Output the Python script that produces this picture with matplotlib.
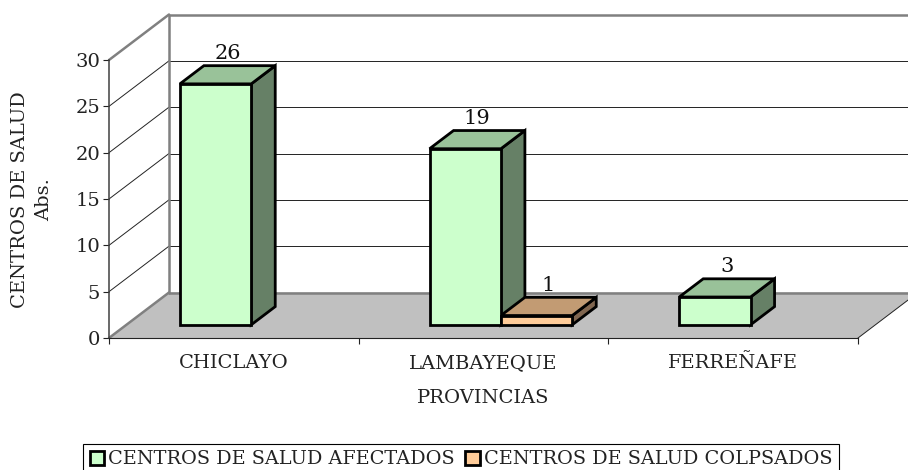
import matplotlib
matplotlib.use("Agg")
import matplotlib.pyplot as plt
from matplotlib.patches import Polygon, Rectangle

categories = ["CHICLAYO", "LAMBAYEQUE", "FERREÑAFE"]
afectados = [26, 19, 3]
colapsados = [0, 1, 0]
series_names = ["CENTROS DE SALUD AFECTADOS", "CENTROS DE SALUD COLPSADOS"]
yticks = [0, 5, 10, 15, 20, 25, 30]

plt.rcParams["font.family"] = "DejaVu Serif"
W, H = 908, 470
fig = plt.figure(figsize=(W / 100, H / 100), dpi=100)
ax = fig.add_axes([109 / W, 1 - 338 / H, 749 / W, 278 / H])
ax.set_xlim(0, 3)
ax.set_ylim(0, 30)
ax.patch.set_alpha(0)

DX = 3 * 60 / 749      # x shift of the full depth, data units
DY = 30 * 45.5 / 278   # y shift of the full depth, data units

def P(x, y, d=0.0):
    return (x + d * DX, y + d * DY)

def poly(pts, fc, ec="black", lw=2.0, z=3):
    ax.add_patch(Polygon(pts, closed=True, facecolor=fc, edgecolor=ec, linewidth=lw,
                         joinstyle="miter", zorder=z, clip_on=False))

def line(a, b, color="black", lw=0.7, z=1):
    ax.plot([a[0], b[0]], [a[1], b[1]], color=color, lw=lw, zorder=z, clip_on=False,
            solid_capstyle="round")

# floor
poly([P(0, 0), P(3, 0), P(3, 0, 1), P(0, 0, 1)], "#C0C0C0", ec="none", lw=0, z=0.5)
line(P(3, 0), P(3, 0, 1), "#222222", 0.7, 1)
# grid lines on side and back walls
for v in yticks[1:-1]:
    line(P(0, v), P(0, v, 1), "#222222", 0.7, 1)
    line(P(0, v, 1), P(3, v, 1), "#222222", 0.7, 1)
# wall frame
G = "#808080"
line(P(0, 0), P(0, 0, 1), G, 1.8, 1.5)
line(P(0, 30), P(0, 30, 1), G, 1.8, 1.5)
line(P(0, 0, 1), P(0, 30, 1), G, 1.8, 1.5)
line(P(0, 30, 1), P(3, 30, 1), G, 1.8, 1.5)
line(P(0, 0, 1), P(3, 0, 1), G, 1.8, 1.5)

D0, D1 = 0.29, 0.69
BW = 1 / 3.5

def bar(x, v, front, top, side):
    poly([P(x, 0, D0), P(x + BW, 0, D0), P(x + BW, v, D0), P(x, v, D0)], front, z=4)
    poly([P(x + BW, 0, D0), P(x + BW, 0, D1), P(x + BW, v, D1), P(x + BW, v, D0)], side, z=3.5)
    poly([P(x, v, D0), P(x + BW, v, D0), P(x + BW, v, D1), P(x, v, D1)], top, z=3.5)
    ax.annotate(str(v), P(x + BW / 2, v, (D0 + D1) / 2), xytext=(0, 8.5), textcoords="offset points",
                ha="center", va="bottom", fontsize=15, color="#111111", zorder=6, annotation_clip=False)

for i in range(len(categories)):
    left = i + 0.5 - BW
    if afectados[i]:
        bar(left, afectados[i], "#CCFFCC", "#99C299", "#668066")
    if colapsados[i]:
        bar(left + BW, colapsados[i], "#FFCC99", "#C29B73", "#806650")

# axes
for s in ("top", "right"):
    ax.spines[s].set_visible(False)
ax.spines["left"].set_color("#404040")
ax.spines["left"].set_linewidth(1.1)
ax.spines["bottom"].set_color("#222222")
ax.spines["bottom"].set_linewidth(0.8)
ax.set_yticks(yticks)
ax.tick_params(axis="y", length=4, width=0.8, labelsize=14, pad=2.5, colors="#222222")
ax.set_xticks([0, 1, 2, 3])
ax.set_xticklabels([])
ax.tick_params(axis="x", which="major", length=4, width=0.8, colors="#222222")
ax.set_xticks([0.5, 1.5, 2.5], minor=True)
ax.set_xticklabels(categories, minor=True, fontsize=14, color="#222222")
ax.tick_params(axis="x", which="minor", length=0, pad=11.5)

fig.text(483.5 / W, 1 - 398 / H, "PROVINCIAS", ha="center", va="center", fontsize=14, color="#222222")
fig.text(32 / W, 1 - 200 / H, "CENTROS DE SALUD\nAbs.", rotation=90, ha="center", va="center",
         fontsize=14, linespacing=1.42, multialignment="center", color="#222222")

handles = [Rectangle((0, 0), 1, 1, facecolor="#CCFFCC", edgecolor="black", linewidth=2.0),
           Rectangle((0, 0), 1, 1, facecolor="#FFCC99", edgecolor="black", linewidth=2.0)]
leg = fig.legend(handles, series_names, ncol=2, loc="upper left",
                 bbox_to_anchor=(83 / W, 1 - 443.5 / H), bbox_transform=fig.transFigure,
                 fontsize=13.85, frameon=True, fancybox=False, edgecolor="black", framealpha=1,
                 borderaxespad=0, borderpad=0.36, handlelength=0.75, handleheight=0.75,
                 handletextpad=0.2, columnspacing=0.55)
leg.get_frame().set_linewidth(0.8)
for t in leg.get_texts():
    t.set_color("#222222")

fig.savefig("out.png", dpi=100)
